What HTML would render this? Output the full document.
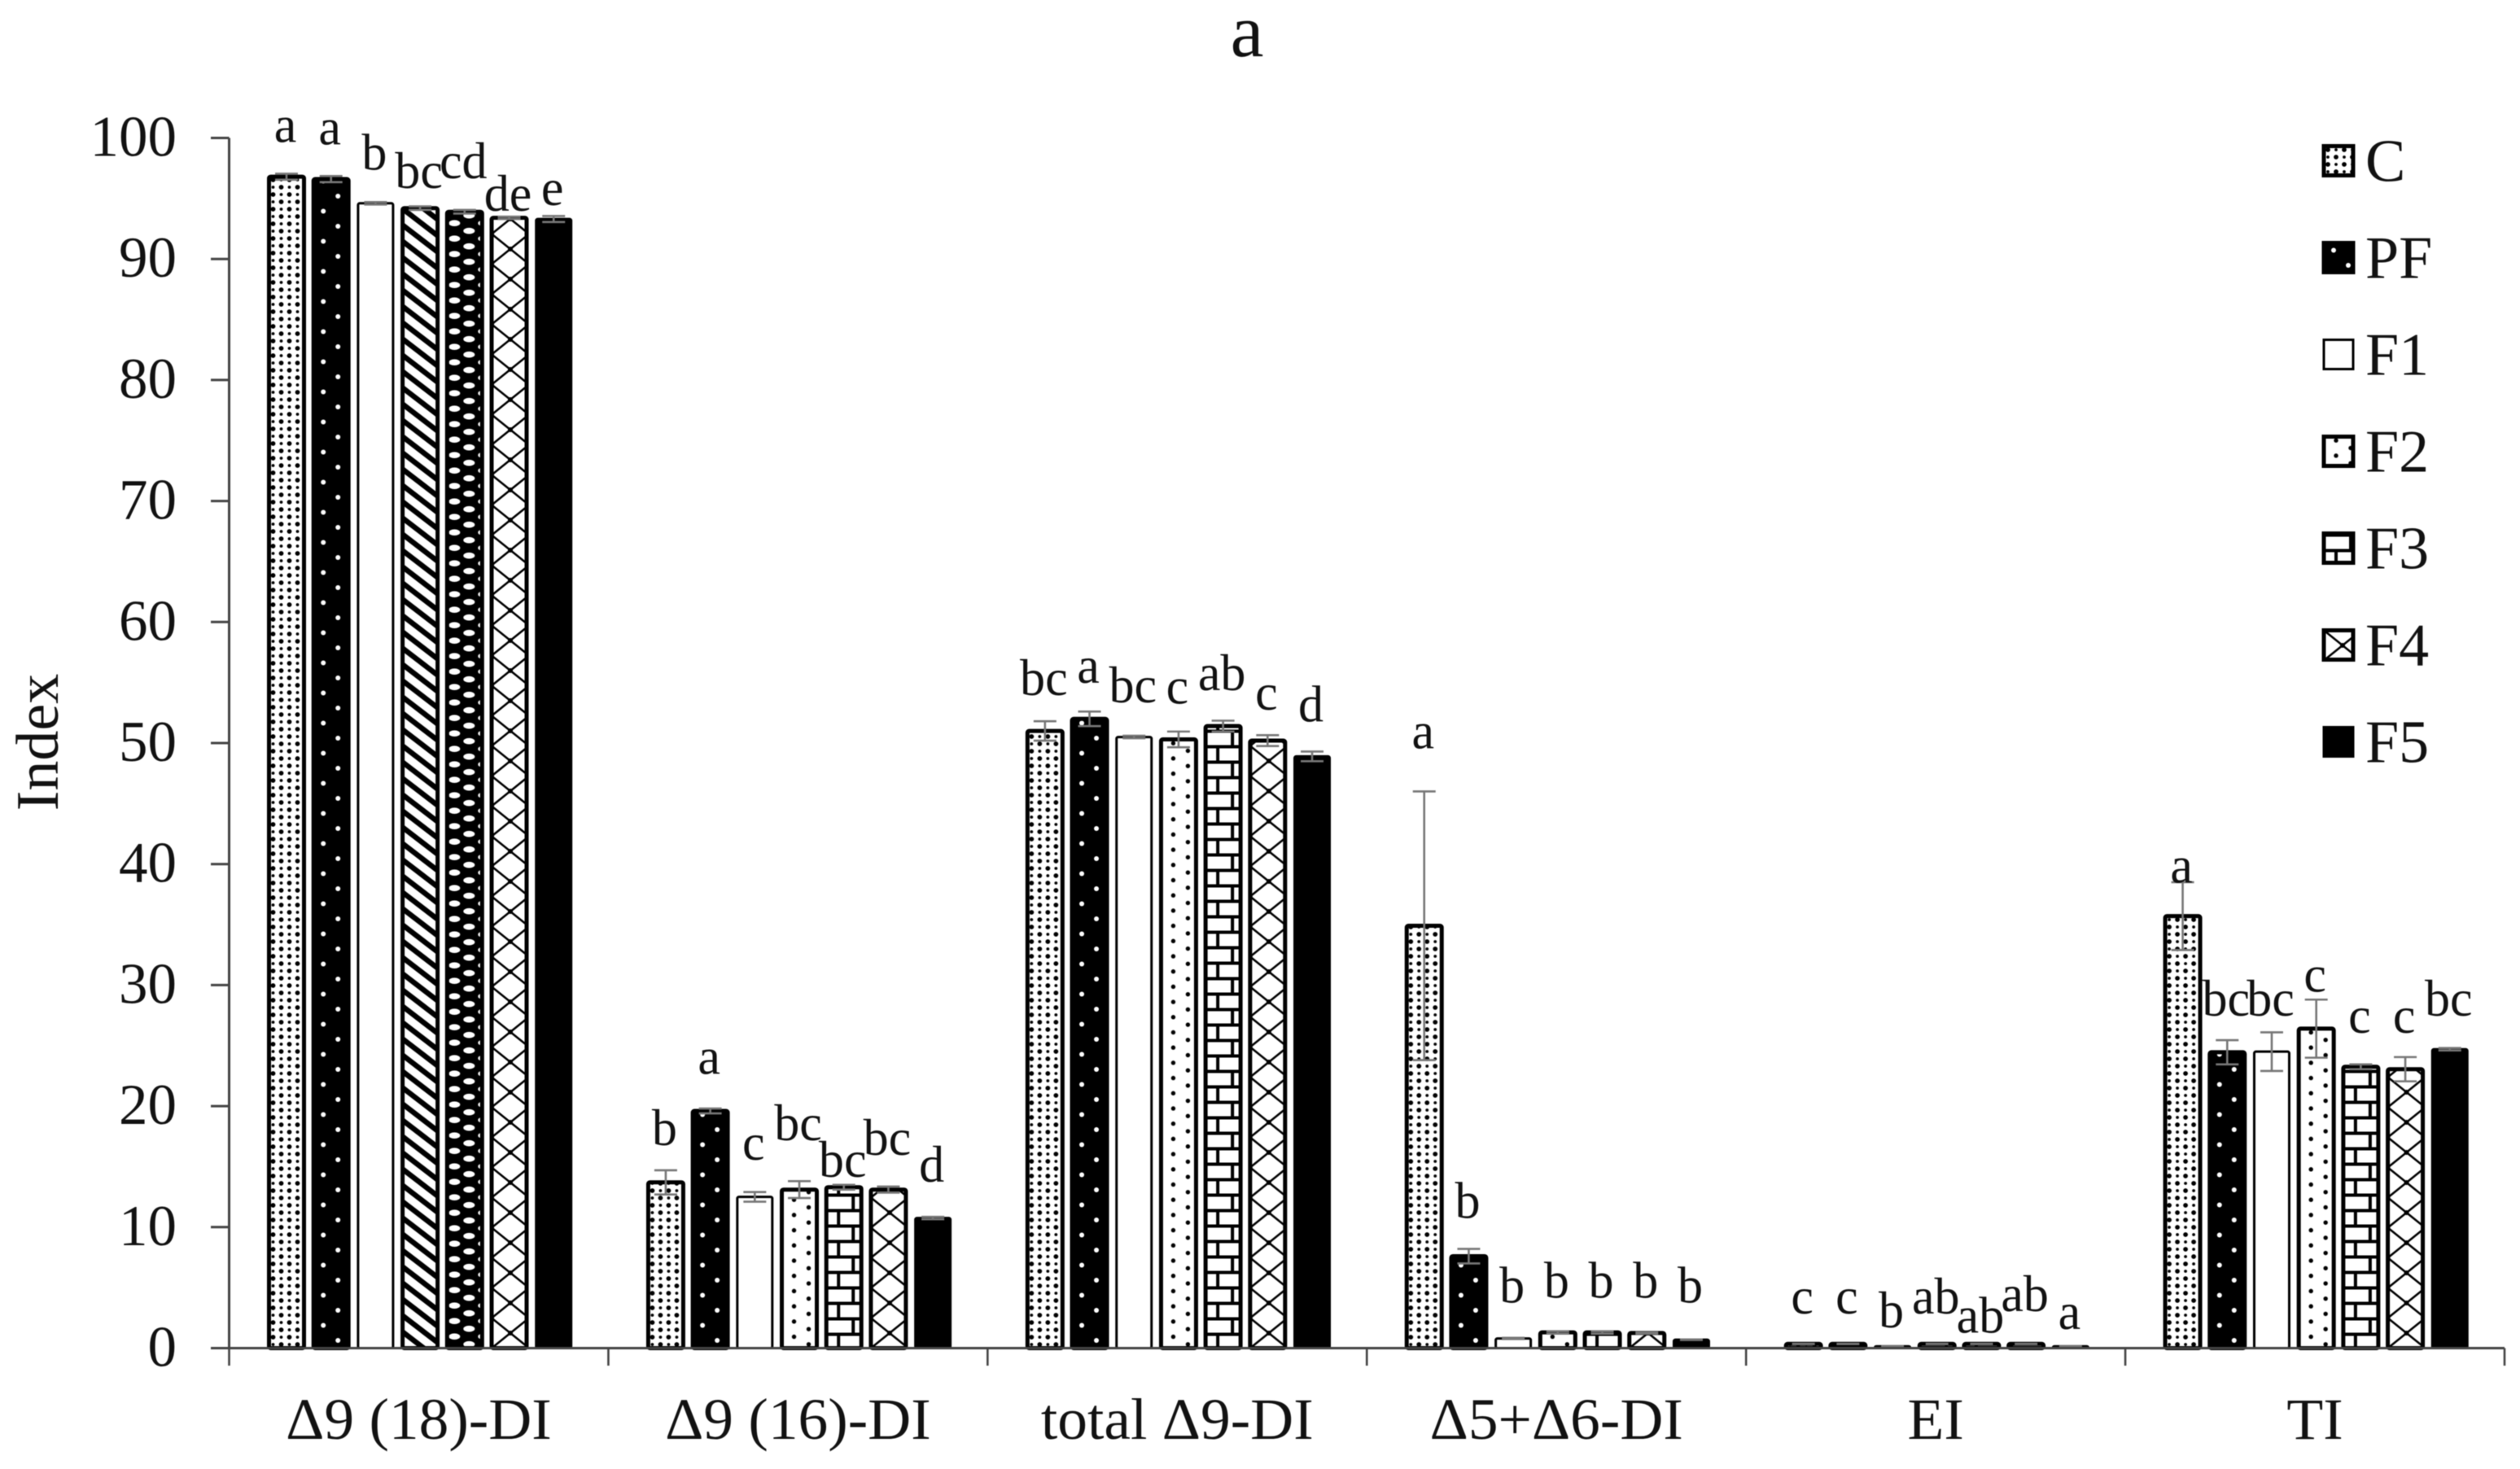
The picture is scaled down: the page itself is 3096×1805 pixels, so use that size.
<!DOCTYPE html>
<html lang="en">
<head>
<meta charset="utf-8">
<title>Index chart a</title>
<style>
  html, body { margin: 0; padding: 0; background: #fff; }
  #chart { display: block; filter: blur(0.6px); }
  text { font-family: "Liberation Serif", "DejaVu Serif", serif; fill: #111; }
</style>
</head>
<body>
<svg id="chart" xmlns="http://www.w3.org/2000/svg" width="3096" height="1805" viewBox="0 0 3096 1805">
  <defs>
    <pattern id="p-c" patternUnits="userSpaceOnUse" width="20" height="18">
      <rect width="20" height="18" fill="#fff"/>
      <circle cx="5" cy="4.5" r="2.9" fill="#000"/>
      <circle cx="15" cy="4.5" r="1.9" fill="#000"/>
      <circle cx="5" cy="13.5" r="1.9" fill="#000"/>
      <circle cx="15" cy="13.5" r="2.9" fill="#000"/>
    </pattern>
    <pattern id="p-pf" patternUnits="userSpaceOnUse" width="37" height="37">
      <rect width="37" height="37" fill="#000"/>
      <circle cx="12" cy="9" r="3" fill="#fff"/>
      <circle cx="30" cy="27.5" r="3" fill="#fff"/>
    </pattern>
    <pattern id="p-f2" patternUnits="userSpaceOnUse" width="36.6" height="18.7">
      <rect width="36.6" height="18.7" fill="#fff"/>
      <circle cx="15" cy="4.7" r="2.7" fill="#000"/>
      <circle cx="33" cy="14" r="2.7" fill="#000"/>
    </pattern>
    <pattern id="p-f3" patternUnits="userSpaceOnUse" width="46" height="38">
      <rect width="46" height="38" fill="#fff"/>
      <path d="M0,2 H46 M0,21 H46 M33,2 V21 M15,21 V40" stroke="#000" stroke-width="4" fill="none"/>
    </pattern>
    <pattern id="p-f4" patternUnits="userSpaceOnUse" width="46" height="37">
      <rect width="46" height="37" fill="#fff"/>
      <path d="M0,0 L46,37 M46,0 L0,37" stroke="#000" stroke-width="2.6" fill="none"/>
      <circle cx="23" cy="18.5" r="3" fill="#000"/>
      <circle cx="0" cy="0" r="3" fill="#000"/>
      <circle cx="46" cy="0" r="3" fill="#000"/>
      <circle cx="0" cy="37" r="3" fill="#000"/>
      <circle cx="46" cy="37" r="3" fill="#000"/>
    </pattern>
    <pattern id="p-stripes" patternUnits="userSpaceOnUse" width="26" height="20">
      <rect width="26" height="20" fill="#fff"/>
      <path d="M0,0 L26,20 M-26,0 L0,20 M26,0 L52,20 M0,-20 L26,0 M0,20 L26,40" stroke="#000" stroke-width="6.5" fill="none"/>
    </pattern>
    <pattern id="p-weave" patternUnits="userSpaceOnUse" width="36" height="19">
      <rect width="36" height="19" fill="#000"/>
      <ellipse cx="9" cy="4.7" rx="7" ry="3.8" fill="#fff"/>
      <ellipse cx="27" cy="14.2" rx="7" ry="3.8" fill="#fff"/>
    </pattern>
  </defs>
  <g id="layer-bars"></g>
  <g id="layer-errors"></g>
  <g id="layer-axes"></g>
  <g id="layer-letters"></g>
  <g id="layer-legend"></g>
  <text x="1532" y="69" font-size="92" text-anchor="middle">a</text>
  <text transform="translate(71,912) rotate(-90)" font-size="74" text-anchor="middle">Index</text>
</svg>
<script>
const categories = ["Δ9 (18)-DI", "Δ9 (16)-DI", "total Δ9-DI", "Δ5+Δ6-DI", "EI", "TI"];
const seriesNames = ["C", "PF", "F1", "F2", "F3", "F4", "F5"];
const yTicks = [0, 10, 20, 30, 40, 50, 60, 70, 80, 90, 100];

const valuesC  = [96.8, 13.7, 51.0, 34.9, 0.35, 35.7];
const valuesPF = [96.6, 19.6, 52.0, 7.6, 0.35, 24.45];
const valuesF1 = [94.6, 12.5, 50.5, 0.8, 0.15, 24.5];
const valuesF2 = [94.2, 13.1, 50.3, 1.3, 0.35, 26.4];
const valuesF3 = [93.9, 13.3, 51.4, 1.3, 0.35, 23.25];
const valuesF4 = [93.4, 13.1, 50.2, 1.25, 0.35, 23.05];
const valuesF5 = [93.3, 10.75, 48.9, 0.7, 0.15, 24.7];

const errorsC  = [0.25, 1.0, 0.8, 11.1, 0.01, 2.8];
const errorsPF = [0.25, 0.2, 0.6, 0.6, 0.01, 1.0];
const errorsF1 = [0.1, 0.4, 0.1, 0.05, 0.01, 1.6];
const errorsF2 = [0.15, 0.7, 0.65, 0.1, 0.01, 2.4];
const errorsF3 = [0.15, 0.2, 0.45, 0.1, 0.01, 0.2];
const errorsF4 = [0.1, 0.25, 0.45, 0.05, 0.01, 1.0];
const errorsF5 = [0.25, 0.1, 0.4, 0.02, 0.01, 0.1];

const lettersC  = ["a", "b", "bc", "a", "c", "a"];
const lettersPF = ["a", "a", "a", "b", "c", "bc"];
const lettersF1 = ["b", "c", "bc", "b", "b", "bc"];
const lettersF2 = ["bc", "bc", "c", "b", "ab", "c"];
const lettersF3 = ["cd", "bc", "ab", "b", "ab", "c"];
const lettersF4 = ["de", "bc", "c", "b", "ab", "c"];
const lettersF5 = ["e", "d", "d", "b", "a", "bc"];

/* height of each letter's baseline above its bar, in y-axis units */
const liftC  = [3.0, 3.2, 3.1, 14.8, 2.65, 2.9];
const liftPF = [3.0, 3.2, 3.1, 3.3, 2.65, 3.15];
const liftF1 = [2.9, 3.2, 3.0, 3.1, 1.7, 3.1];
const liftF2 = [1.8, 4.2, 3.1, 3.0, 2.65, 3.2];
const liftF3 = [2.9, 1.0, 3.1, 3.0, 1.05, 2.95];
const liftF4 = [0.7, 3.0, 2.7, 3.05, 2.85, 3.15];
const liftF5 = [1.3, 3.15, 3.0, 3.2, 1.55, 2.9];

const seriesValues = [valuesC, valuesPF, valuesF1, valuesF2, valuesF3, valuesF4, valuesF5];
const seriesErrors = [errorsC, errorsPF, errorsF1, errorsF2, errorsF3, errorsF4, errorsF5];
const seriesLetters = [lettersC, lettersPF, lettersF1, lettersF2, lettersF3, lettersF4, lettersF5];
const seriesLifts = [liftC, liftPF, liftF1, liftF2, liftF3, liftF4, liftF5];

const NS = "http://www.w3.org/2000/svg";
const plotLeft = 281.5, plotRight = 3077, plotTop = 169.5, plotBottom = 1656.5, yMax = 100;
const groupWidth = (plotRight - plotLeft) / categories.length;
const firstBarOffset = 70.5, barPitch = 54.7;

function yScale(v) { return plotBottom - (v / yMax) * (plotBottom - plotTop); }
function xGroup(g) { return plotLeft + g * groupWidth; }
function xBar(g, s) { return xGroup(g) + firstBarOffset + s * barPitch; }

function mk(tag, parent, props) {
  const el = document.createElementNS(NS, tag);
  for (const k in props) el.setAttribute(k, props[k]);
  parent.appendChild(el);
  return el;
}
function fillFor(s, g) {
  if (g === 0 && s === 3) return "url(#p-stripes)";
  if (g === 0 && s === 4) return "url(#p-weave)";
  return ["url(#p-c)", "url(#p-pf)", "#fff", "url(#p-f2)", "url(#p-f3)", "url(#p-f4)", "#000"][s];
}
function strokeFor(s) { return (s === 2 || s === 6) ? 3 : 5; }

const barsLayer = document.getElementById("layer-bars");
const errorsLayer = document.getElementById("layer-errors");
const axesLayer = document.getElementById("layer-axes");
const lettersLayer = document.getElementById("layer-letters");
const legendLayer = document.getElementById("layer-legend");

seriesNames.forEach(function (name, s) {
  categories.forEach(function (cat, g) {
    const value = seriesValues[s][g];
    const err = seriesErrors[s][g];
    const cx = xBar(g, s);
    const sw = strokeFor(s);
    const inner = 43;
    const hgt = plotBottom - yScale(value);

    const holder = mk("g", barsLayer, { transform: "translate(" + (cx - inner / 2) + "," + plotBottom + ")" });
    
    
    const bar = mk("rect", holder, {
      x: 0, y: -hgt, width: inner, height: hgt, rx: 2,
      fill: fillFor(s, g), stroke: "#000", "stroke-width": sw
    });
    
    

    const yHi = yScale(value + err), yLo = yScale(value - err);
    const whisker = mk("path", errorsLayer, {
      d: "M" + cx + "," + yLo + " V" + yHi + " M" + (cx - 14) + "," + yHi + " H" + (cx + 14) + " M" + (cx - 14) + "," + yLo + " H" + (cx + 14),
      stroke: "#777", "stroke-width": 2.6, fill: "none"
    });
    
    

    const label = mk("text", lettersLayer, {
      transform: "translate(" + (cx - 1.5) + "," + (yScale(value + seriesLifts[s][g]) + 2) + ") scale(0.97,1)",
      "font-size": 64, "text-anchor": "middle"
    });
    label.textContent = seriesLetters[s][g];
    
    
  });
});

const yAxisLine = mk("line", axesLayer, { x1: plotLeft, x2: plotLeft, y1: plotTop, y2: plotBottom, stroke: "#444", "stroke-width": 3 });



const xAxisLine = mk("line", axesLayer, { x1: 259, x2: plotRight, y1: plotBottom, y2: plotBottom, stroke: "#444", "stroke-width": 3 });



yTicks.forEach(function (t) {
  const tick = mk("line", axesLayer, { x1: 259, x2: plotLeft, y1: yScale(t), y2: yScale(t), stroke: "#444", "stroke-width": 3 });
  
  
  const lab = mk("text", axesLayer, { x: 217, y: yScale(t) + 22, "font-size": 71, "text-anchor": "end" });
  lab.textContent = String(t);
  
  
});

for (let g = 0; g <= categories.length; g++) {
  const tick = mk("line", axesLayer, { x1: xGroup(g), x2: xGroup(g), y1: plotBottom, y2: 1678, stroke: "#444", "stroke-width": 2.6 });
  
  
}

categories.forEach(function (cat, g) {
  const lab = mk("text", axesLayer, {
    transform: "translate(" + (xGroup(g) + groupWidth / 2) + ",1768) scale(1.02,1)",
    "font-size": 72, "text-anchor": "middle"
  });
  lab.textContent = cat;
  
  
});

seriesNames.forEach(function (name, s) {
  const cy = 197.5 + s * 119;
  const holder = mk("g", legendLayer, { transform: "translate(2855," + (cy - 18) + ")" });
  
  
  const swatch = mk("rect", holder, {
    x: 0, y: 0, width: 36, height: 36,
    fill: fillFor(s, 1), stroke: "#000", "stroke-width": strokeFor(s)
  });
  
  
  const lab = mk("text", legendLayer, { x: 2906, y: cy + 25, "font-size": 74 });
  lab.textContent = name;
  
  
});
</script>
</body>
</html>
